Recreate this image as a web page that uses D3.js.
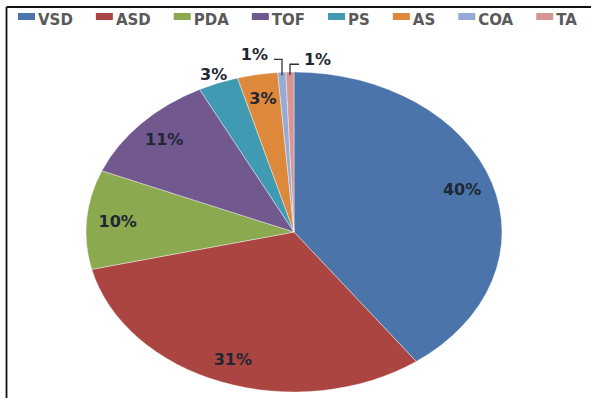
<!DOCTYPE html>
<html lang="en">
<head>
  <meta charset="UTF-8">
  <title>Congenital heart defects pie</title>
  <style>
    body { margin: 0; background: #fff; font-family: "DejaVu Sans", Verdana, sans-serif; }
    .legend text { font-size: 15px; font-weight: bold; fill: #5a5a5a; }
    .lbl { font-size: 16px; font-weight: bold; fill: #1f2733; }
    .frame { stroke: #111; stroke-width: 1.8; fill: none; }
    .leader { stroke: #333; stroke-width: 1.3; fill: none; }
  </style>
  <script src="https://d3js.org/d3.v7.min.js"></script>
</head>
<body>
  <svg id="chart" width="591" height="398"></svg>
  <script>
    // data (patient counts)
    const categories = ["VSD", "ASD", "PDA", "TOF", "PS", "AS", "COA", "TA"];
    const counts = [64, 50, 16, 18, 5, 5, 1, 1];
    const colors = ["#4A74AA", "#AA4542", "#8BA94E", "#71588F", "#3F9AB2", "#DE883C", "#95ABD5", "#D79594"];
    // how each slice label is placed
    const labelMode = ["in", "in", "in", "in", "out", "in", "leftLeader", "rightLeader"];

    const width = 591, height = 398;
    const cx = 294, cy = 232, rx = 208, ry = 160;

    const svg = d3.select("#chart");

    // frame lines (top and left edges of the figure box)
    svg.append("line").attr("class", "frame")
      .attr("x1", 6.5).attr("y1", 7).attr("x2", width).attr("y2", 7);
    svg.append("line").attr("class", "frame")
      .attr("x1", 6.5).attr("y1", 7).attr("x2", 6.5).attr("y2", height);

    const total = d3.sum(counts);
    const pie = d3.pie().sort(null).value(d => d);
    const arcs = pie(counts);
    const arc = d3.arc().innerRadius(0).outerRadius(ry);

    // slices drawn as a circle stretched into an ellipse
    svg.append("g")
      .attr("transform", `translate(${cx},${cy}) scale(${rx / ry},1)`)
      .selectAll("path")
      .data(arcs)
      .enter().append("path")
      .attr("d", arc)
      .attr("fill", (d, i) => colors[i])
      .attr("stroke", "#fff")
      .attr("stroke-width", 0.4)
      .attr("vector-effect", "non-scaling-stroke");

    // point on the ellipse at a fraction f of the radius
    const pt = (a, f) => [cx + rx * f * Math.sin(a), cy - ry * f * Math.cos(a)];
    const pct = v => Math.round(v / total * 100) + "%";

    const labels = svg.append("g");
    arcs.forEach((d, i) => {
      const mid = (d.startAngle + d.endAngle) / 2;
      const mode = labelMode[i];
      if (mode === "in" || mode === "out") {
        const [x, y] = pt(mid, mode === "in" ? 0.85 : 1.06);
        labels.append("text").attr("class", "lbl")
          .attr("x", x).attr("y", y)
          .attr("text-anchor", "middle")
          .attr("dominant-baseline", "central")
          .text(pct(d.value));
      } else {
        const [x0, y0] = pt(mid, 0.98);
        const left = mode === "leftLeader";
        const ey = y0 - (left ? 16 : 11);
        const ex = x0 + (left ? -8 : 9);
        labels.append("path").attr("class", "leader")
          .attr("d", `M${x0},${y0}V${ey}H${ex}`);
        labels.append("text").attr("class", "lbl")
          .attr("x", ex + (left ? -6 : 5)).attr("y", ey - (left ? 5 : 5))
          .attr("text-anchor", left ? "end" : "start")
          .attr("dominant-baseline", "central")
          .text(pct(d.value));
      }
    });

    // legend across the top
    const legend = svg.append("g").attr("class", "legend");
    let lx = 18;
    categories.forEach((c, i) => {
      const g = legend.append("g").attr("transform", `translate(${lx},0)`);
      g.append("rect").attr("x", 0).attr("y", 13).attr("width", 17).attr("height", 7)
        .attr("fill", colors[i]);
      const t = g.append("text").attr("x", 20).attr("y", 25).text(c);
      lx += 20 + t.node().getComputedTextLength() + 23;
    });
  </script>
</body>
</html>
